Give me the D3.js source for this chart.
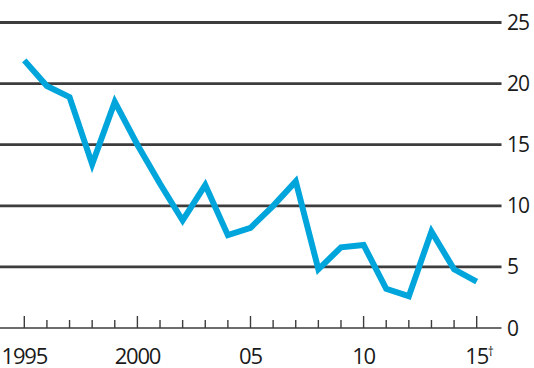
<!DOCTYPE html>
<html><head><meta charset="utf-8">
<script src="https://cdn.jsdelivr.net/npm/d3@7"></script>
<style>
html,body{margin:0;padding:0;background:#fff;}
svg{display:block;}
text{font-family:"Open Sans",sans-serif;fill:#1a1a1a;}
</style></head>
<body>
<svg id="chart" width="534" height="368"></svg>
<script>
const years = [1995,1996,1997,1998,1999,2000,2001,2002,2003,2004,2005,2006,2007,2008,2009,2010,2011,2012,2013,2014,2015];
const values = [21.9,19.8,18.9,13.4,18.5,15.0,11.8,8.8,11.7,7.6,8.2,10.0,12.0,4.8,6.6,6.8,3.2,2.6,7.9,4.8,3.8];
const yTicks = [0,5,10,15,20,25];
const xMajor = [1995,2000,2005,2010,2015];
const xLabels = ["1995","2000","05","10","15"];

const svg = d3.select("#chart");
const x = d3.scaleLinear().domain([1995,2015]).range([24.3,476.7]);
const y = d3.scaleLinear().domain([0,25]).range([328,22.5]);

// gridlines
svg.append("g").selectAll("line").data(yTicks.filter(d=>d>0)).join("line")
  .attr("x1",0).attr("x2",501.5)
  .attr("y1",d=>y(d)).attr("y2",d=>y(d))
  .attr("stroke","#3d3d3d").attr("stroke-width",2.8);

// x axis line
svg.append("line").attr("x1",0).attr("x2",501.5).attr("y1",y(0)).attr("y2",y(0))
  .attr("stroke","#3d3d3d").attr("stroke-width",1.6);

// ticks
svg.append("g").selectAll("line").data(years).join("line")
  .attr("x1",d=>x(d)).attr("x2",d=>x(d))
  .attr("y1",y(0)).attr("y2",d=>xMajor.includes(d)? y(0)-12 : y(0)-8)
  .attr("stroke","#3d3d3d").attr("stroke-width",1.4);

// y labels
svg.append("g").selectAll("text").data(yTicks).join("text")
  .attr("x",507).attr("y",d=>y(d)).attr("dy","0.36em")
  .attr("font-size",21).attr("letter-spacing",-1).text(d=>d);

// x labels
svg.append("g").selectAll("text").data(xMajor).join("text")
  .attr("x",d=>x(d)).attr("y",364)
  .attr("text-anchor","middle").attr("font-size",22).attr("letter-spacing",-1.2)
  .text((d,i)=>xLabels[i]);
svg.append("text").attr("x",x(2015)+11).attr("y",356).attr("font-size",12).text("†");

// line
const line = d3.line().x((d,i)=>x(years[i])).y(d=>y(d));
svg.append("path").datum(values).attr("d",line)
  .attr("fill","none").attr("stroke","#00a5dc").attr("stroke-width",6)
  .attr("stroke-linejoin","miter").attr("stroke-linecap","butt");
</script>
</body></html>
